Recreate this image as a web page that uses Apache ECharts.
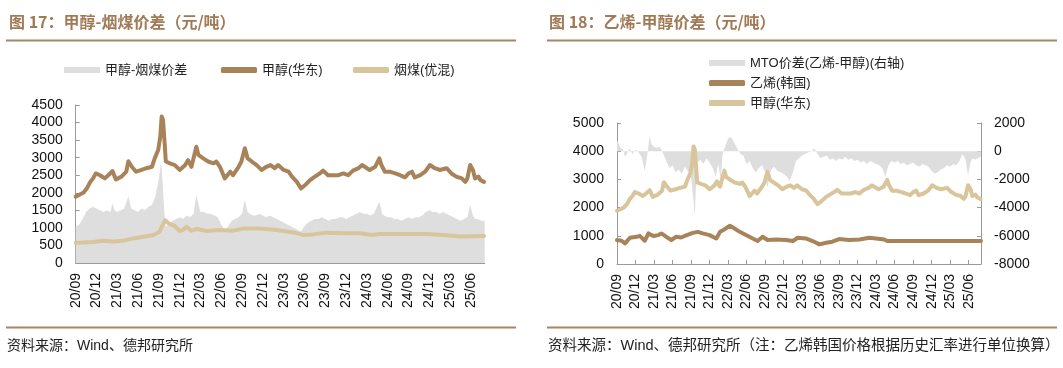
<!DOCTYPE html>
<html><head><meta charset="utf-8">
<script src="https://cdn.jsdelivr.net/npm/echarts@6/dist/echarts.min.js"></script>
<style>html,body{margin:0;padding:0;background:#fff}#c{width:1063px;height:368px}</style>
</head><body><div id="c"></div>
<script>
// x positions are months since 2020-09 (0 = 20/09)
const xTickLabels = ['20/09','20/12','21/03','21/06','21/09','21/12','22/03','22/06','22/09','22/12','23/03','23/06','23/09','23/12','24/03','24/06','24/09','24/12','25/03','25/06'];

const methanolEast = [[0,1890],[0.6,1950],[1.1,2000],[1.6,2120],[2.1,2310],[2.5,2410],[2.9,2550],[3.5,2500],[4.2,2410],[4.7,2500],[5.3,2620],[5.8,2380],[6.6,2460],[7.3,2600],[7.6,2900],[8.1,2740],[8.7,2600],[9.5,2650],[10.2,2700],[11,2740],[11.4,2980],[11.9,3220],[12.2,3600],[12.4,4170],[12.6,4070],[12.8,3500],[13,2890],[13.6,2840],[14.3,2790],[15,2650],[15.8,2790],[16.2,2930],[16.7,2740],[17.4,3310],[17.7,3080],[18.4,2980],[19.1,2890],[19.9,2840],[20.3,2890],[20.8,2740],[21.5,2410],[22.3,2600],[22.7,2500],[23.5,2740],[23.9,2890],[24.4,3270],[24.8,2980],[25.4,2890],[26.1,2790],[26.8,2650],[27.5,2740],[28.1,2790],[28.7,2700],[29.2,2790],[30,2650],[30.7,2600],[31.2,2460],[31.9,2310],[32.5,2120],[33.1,2220],[33.8,2360],[34.5,2460],[35.2,2550],[35.7,2630],[36.4,2500],[37.2,2500],[37.9,2500],[38.6,2550],[39.3,2500],[40,2630],[40.8,2700],[41.3,2790],[41.7,2740],[42.4,2650],[43.2,2740],[43.8,2980],[44.1,2790],[44.6,2600],[45.3,2600],[46.1,2550],[46.8,2500],[47.5,2440],[48,2550],[48.5,2600],[48.9,2440],[49.7,2500],[50.4,2600],[51.1,2790],[51.8,2700],[52.5,2650],[53.5,2700],[54.2,2550],[54.9,2460],[55.7,2410],[56.2,2310],[56.5,2410],[56.9,2790],[57.3,2650],[57.6,2410],[58.1,2460],[58.4,2360],[58.9,2310]];

const coalYouhun = [[0,580],[1,585],[2.5,600],[4,636],[5.4,610],[6.9,636],[8.3,700],[9.8,750],[11.2,800],[12.1,890],[12.4,1030],[12.9,1220],[13.4,1130],[14.3,1050],[15,910],[15.5,950],[16,1030],[16.7,920],[17.5,970],[18.9,910],[20.8,940],[22.7,920],[24.2,985],[26.6,985],[29,940],[31.4,870],[32.8,800],[34.3,815],[36.2,865],[38.6,845],[41,845],[42.7,800],[43.9,825],[48.2,825],[50.6,825],[53,800],[55.4,755],[58.9,770]];

const methCoalSpread = [[0,1030],[0.5,1100],[1,1250],[1.5,1450],[2,1550],[2.5,1600],[3,1550],[3.5,1500],[4,1450],[4.5,1500],[5,1450],[5.3,1700],[5.6,1500],[6,1450],[6.5,1500],[7,1550],[7.6,1900],[8,1550],[8.5,1500],[9,1450],[9.5,1550],[10,1500],[10.5,1600],[11,1650],[11.5,1900],[12,2400],[12.3,2900],[12.5,2400],[12.8,1400],[13,1050],[13.5,1100],[14,1200],[14.5,1250],[15,1300],[15.5,1250],[16,1350],[16.5,1300],[17,1400],[17.4,1950],[17.8,1600],[18,1450],[18.5,1450],[19,1400],[19.5,1400],[20,1350],[20.5,1300],[21,1100],[21.5,950],[22,1050],[22.5,1200],[23,1250],[23.5,1300],[24,1400],[24.4,1800],[24.8,1450],[25,1400],[25.5,1350],[26,1350],[26.5,1400],[27,1350],[27.5,1300],[28,1350],[28.5,1300],[29,1250],[29.5,1200],[30,1150],[30.5,1100],[31,1050],[31.5,1000],[32,950],[32.5,900],[33,1050],[33.5,1150],[34,1200],[34.5,1250],[35,1250],[35.5,1300],[36,1250],[36.5,1200],[37,1250],[37.5,1250],[38,1300],[38.5,1300],[39,1250],[39.5,1300],[40,1350],[40.5,1400],[41,1450],[41.5,1400],[42,1400],[42.5,1350],[43,1400],[43.8,1750],[44.2,1400],[44.5,1350],[45,1300],[45.5,1300],[46,1250],[46.5,1250],[47,1200],[47.5,1250],[48,1300],[48.5,1250],[49,1300],[49.5,1300],[50,1350],[50.5,1450],[51,1500],[51.5,1450],[52,1450],[52.5,1400],[53,1450],[53.5,1400],[54,1350],[54.5,1300],[55,1250],[55.5,1200],[56,1250],[56.5,1300],[56.9,1650],[57.3,1350],[57.6,1250],[58,1250],[58.5,1200],[59,1200]];

const ethyleneKorea = [[0,850],[0.75,825],[1.3,730],[2.1,930],[3.2,965],[3.7,1000],[4.5,825],[5.1,1085],[5.3,1140],[5.9,990],[6.7,1025],[7.2,1085],[8,965],[8.8,850],[9.6,965],[10.4,940],[11.3,1025],[12.3,1105],[13.1,1140],[13.9,1085],[15,1025],[16.1,905],[16.7,1140],[17.4,1225],[18.3,1355],[18.8,1295],[19.9,1140],[20.9,1025],[22,905],[22.8,815],[23.6,965],[24.4,850],[25.8,870],[27.4,850],[28.5,815],[29.3,930],[30.6,905],[31.7,815],[32.8,695],[33.9,755],[34.9,790],[36,885],[37.6,850],[39.3,870],[40.9,930],[42,905],[43.3,870],[43.8,815],[59,815]];

const mtoSpread = [[0,800],[0.5,300],[1,100],[1.3,-400],[1.6,-200],[2,200],[2.5,-200],[3,100],[3.5,-100],[4,-400],[4.5,-1400],[4.9,-300],[5.3,1100],[5.6,500],[6,300],[6.5,250],[7,300],[7.5,-200],[8,-700],[8.5,-1200],[9,-1000],[9.5,-1500],[10,-1300],[10.5,-1600],[11,-1100],[11.5,-1400],[12,-1800],[12.4,-3500],[12.6,-4600],[12.8,-2500],[13,-800],[13.5,-600],[14,-900],[14.5,-500],[15,-800],[15.5,-1200],[16,-1800],[16.4,-900],[16.8,-2000],[17.1,-200],[17.5,300],[18,900],[18.5,1000],[19,600],[19.5,200],[20,-200],[20.5,-300],[21,-900],[21.5,-700],[22,-1200],[22.5,-1500],[23,-1200],[23.5,-1000],[24,-1500],[24.4,-2600],[24.8,-1500],[25,-1300],[25.5,-1100],[26,-1400],[26.5,-1500],[27,-1600],[27.5,-1800],[28,-2100],[28.5,-1500],[29,-700],[29.5,-500],[30,-300],[30.5,-200],[31,-100],[31.5,0],[32,200],[32.5,-200],[33,-500],[33.5,-400],[34,-300],[34.5,-600],[35,-500],[35.5,-700],[36,-500],[36.5,-600],[37,-400],[37.5,-600],[38,-500],[38.5,-700],[39,-600],[39.5,-800],[40,-700],[40.5,-900],[41,-700],[41.5,-800],[42,-900],[42.5,-1000],[43,-1200],[43.5,-1800],[44,-1000],[44.5,-700],[45,-800],[45.5,-700],[46,-900],[46.5,-800],[47,-1000],[47.5,-900],[48,-800],[48.5,-1000],[49,-1100],[49.5,-900],[50,-1000],[50.5,-1100],[51,-1400],[51.5,-1600],[52,-1500],[52.5,-1300],[53,-1200],[53.5,-1000],[54,-1100],[54.5,-900],[55,-1000],[55.5,-700],[56,-200],[56.5,-600],[56.9,-1700],[57.3,-800],[57.6,-500],[58,-600],[58.5,-500],[59,-400]];

const BROWN = '#a8835a', TAN = '#d9c59b', GRAY = '#dedede', TITLE_C = '#a07a55', RULE = '#a88566', AX = '#9a9a9a';
const CJK = '"Noto Sans CJK SC", sans-serif';
const ARIAL = '"Liberation Sans", "Noto Sans CJK SC", sans-serif';
const tickPos = xTickLabels.map((_, i) => i * 3);

function xAxisCfg(g) {
  return {
    type: 'value', gridIndex: g, min: 0, max: 59, splitLine: { show: false },
    axisLine: { onZero: false, lineStyle: { color: AX, width: 1 } },
    axisTick: { inside: true, length: 4, customValues: tickPos, lineStyle: { color: AX } },
    axisLabel: { customValues: tickPos, rotate: 90, margin: 10, fontSize: 14, fontFamily: ARIAL, color: '#111',
      formatter: v => xTickLabels[Math.round(v / 3)] || '' }
  };
}
function yAxisCfg(g, min, max, interval, pos) {
  return {
    type: 'value', gridIndex: g, min, max, interval, position: pos, splitLine: { show: false },
    axisLine: { show: true, onZero: false, lineStyle: { color: AX } },
    axisTick: { show: true, inside: true, length: 4, lineStyle: { color: AX } },
    axisLabel: { margin: 13, fontSize: 14, fontFamily: ARIAL, color: '#111', formatter: v => String(v) }
  };
}
function legendItem(name, icon, color, left, top, label) {
  return {
    data: [{ name, icon, itemStyle: { color, borderWidth: 0 } }],
    left, top, padding: 0, itemWidth: 36, itemHeight: 6, itemGap: 0, selectedMode: false,
    formatter: () => label || name,
    textStyle: { fontSize: 13, fontFamily: ARIAL, color: '#222', lineHeight: 14 }
  };
}
function lineSeries(name, data, color, xi, yi) {
  return { name, type: 'line', data, xAxisIndex: xi, yAxisIndex: yi, symbol: 'none', color,
    lineStyle: { color, width: 4, cap: 'round', join: 'round' }, z: 3 };
}
function areaSeries(name, data, xi, yi) {
  return { name, type: 'line', data, xAxisIndex: xi, yAxisIndex: yi, symbol: 'none', color: GRAY,
    lineStyle: { width: 0 }, areaStyle: { color: GRAY, opacity: 1, origin: 'auto' }, z: 1 };
}

const chart = echarts.init(document.getElementById('c'));
chart.setOption({
  animation: false,
  backgroundColor: '#fff',
  title: [
    { text: '图 17：甲醇-烟煤价差（元/吨）', left: 9, top: 13, padding: 0,
      textStyle: { fontSize: 16, fontWeight: 'bold', color: TITLE_C, fontFamily: CJK, lineHeight: 18 } },
    { text: '图 18：乙烯-甲醇价差（元/吨）', left: 549, top: 13, padding: 0,
      textStyle: { fontSize: 16, fontWeight: 'bold', color: TITLE_C, fontFamily: CJK, lineHeight: 18 } }
  ],
  graphic: [
    { type: 'line', shape: { x1: 6, y1: 40.5, x2: 516, y2: 40.5 }, style: { stroke: RULE, lineWidth: 2 } },
    { type: 'line', shape: { x1: 547, y1: 40.5, x2: 1057, y2: 40.5 }, style: { stroke: RULE, lineWidth: 2 } },
    { type: 'line', shape: { x1: 6, y1: 327.5, x2: 516, y2: 327.5 }, style: { stroke: RULE, lineWidth: 2 } },
    { type: 'line', shape: { x1: 547, y1: 327.5, x2: 1057, y2: 327.5 }, style: { stroke: RULE, lineWidth: 2 } },
    { type: 'text', x: 7, y: 346, style: { text: '资料来源：Wind、德邦研究所', font: '14px "Liberation Sans", "Noto Sans CJK SC"', fill: '#222', verticalAlign: 'middle' } },
    { type: 'text', x: 548, y: 346, style: { text: '资料来源：Wind、德邦研究所（注：乙烯韩国价格根据历史汇率进行单位换算）', font: '14.5px "Liberation Sans", "Noto Sans CJK SC"', fill: '#222', verticalAlign: 'middle' } }
  ],
  legend: [
    legendItem('甲醇-烟煤价差', 'rect', GRAY, 64, 63),
    legendItem('甲醇(华东)', 'roundRect', BROWN, 221, 63),
    legendItem('烟煤(优混)', 'roundRect', TAN, 353, 63),
    legendItem('MTO价差(乙烯-甲醇)(右轴)', 'rect', GRAY, 709, 56),
    legendItem('乙烯(韩国)', 'roundRect', BROWN, 709, 76),
    legendItem('甲醇(华东)@2', 'roundRect', TAN, 709, 96, '甲醇(华东)')
  ],
  grid: [
    { left: 75.7, top: 105, width: 409, height: 158, outerBoundsMode: 'none' },
    { left: 617, top: 123, width: 364, height: 141, outerBoundsMode: 'none' }
  ],
  xAxis: [xAxisCfg(0), xAxisCfg(1)],
  yAxis: [
    yAxisCfg(0, 0, 4500, 500, 'left'),
    yAxisCfg(1, 0, 5000, 1000, 'left'),
    yAxisCfg(1, -8000, 2000, 2000, 'right')
  ],
  series: [
    areaSeries('甲醇-烟煤价差', methCoalSpread, 0, 0),
    lineSeries('甲醇(华东)', methanolEast, BROWN, 0, 0),
    lineSeries('烟煤(优混)', coalYouhun, TAN, 0, 0),
    areaSeries('MTO价差(乙烯-甲醇)(右轴)', mtoSpread, 1, 2),
    lineSeries('乙烯(韩国)', ethyleneKorea, BROWN, 1, 1),
    lineSeries('甲醇(华东)@2', methanolEast, TAN, 1, 1)
  ]
});
</script></body></html>
